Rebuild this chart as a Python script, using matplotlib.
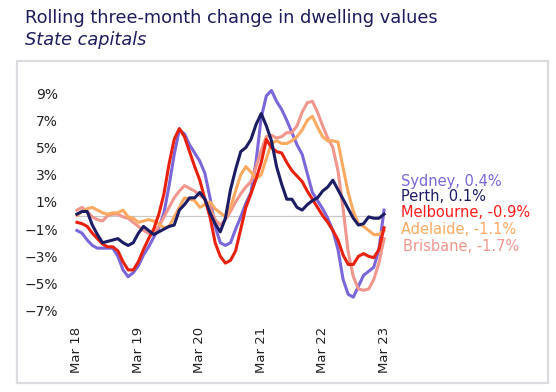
import numpy as np
import matplotlib.pyplot as plt
from matplotlib.patches import Rectangle

# rolling three-month change (%), monthly from Mar 2018 to Mar 2023
sydney = [-1.1, -1.3, -1.8, -2.2, -2.4, -2.4, -2.4, -2.4, -3.0, -4.0, -4.5, -4.2,
          -3.7, -2.9, -2.3, -1.6, -0.9, 0.2, 2.2, 4.5, 6.3, 6.0, 5.2, 4.6,
          4.0, 3.1, 1.3, -0.8, -2.0, -2.2, -2.0, -1.0, -0.1, 0.9, 1.7, 4.0,
          7.2, 8.8, 9.2, 8.4, 7.8, 7.0, 6.1, 5.2, 4.5, 3.1, 1.7, 1.1,
          0.5, -0.2, -1.1, -2.5, -4.7, -5.8, -6.0, -5.2, -4.4, -4.1, -3.8, -2.5, 0.4]
perth = [0.1, 0.3, 0.3, -0.7, -1.4, -2.0, -1.9, -1.8, -1.7, -2.0, -2.2, -2.0,
         -1.3, -0.8, -1.1, -1.4, -1.2, -1.0, -0.8, -0.7, 0.4, 0.8, 1.3, 1.3,
         1.7, 1.2, 0.2, -0.6, -1.2, -0.2, 1.9, 3.4, 4.7, 5.0, 5.6, 6.7,
         7.5, 6.6, 5.5, 3.6, 2.3, 1.2, 1.2, 0.6, 0.4, 0.8, 1.1, 1.3,
         1.8, 2.1, 2.6, 1.9, 1.2, 0.5, -0.2, -0.7, -0.6, -0.1, -0.2, -0.2, 0.1]
melbourne = [-0.5, -0.6, -0.8, -1.3, -1.7, -2.1, -2.3, -2.3, -2.6, -3.4, -4.0, -4.0,
             -3.4, -2.5, -1.7, -1.0, 0.1, 1.6, 3.8, 5.6, 6.4, 5.8, 4.7, 3.6,
             2.6, 1.2, -0.1, -2.0, -3.0, -3.5, -3.3, -2.6, -1.0, 0.6, 1.6, 2.7,
             3.9, 5.6, 5.0, 4.7, 4.6, 3.9, 3.3, 2.9, 2.5, 1.8, 1.2, 0.6,
             0.0, -0.5, -1.1, -1.8, -2.9, -3.6, -3.6, -3.0, -2.8, -3.0, -3.1, -2.5, -0.9]
adelaide = [0.0, 0.3, 0.5, 0.6, 0.4, 0.2, 0.1, 0.2, 0.2, 0.4, -0.1, -0.2,
            -0.5, -0.4, -0.3, -0.4, -0.6, -0.9, -0.8, -0.1, 0.6, 1.3, 1.2, 1.1,
            0.6, 0.8, 1.0, 0.5, 0.2, -0.1, 0.6, 1.8, 3.0, 3.6, 3.2, 2.7,
            3.0, 4.2, 5.3, 5.5, 5.3, 5.3, 5.5, 5.8, 6.3, 7.0, 7.3, 6.5,
            5.8, 5.5, 5.5, 5.4, 3.5, 1.7, 0.3, -0.6, -0.8, -1.1, -1.4, -1.4, -1.1]
brisbane = [0.4, 0.6, 0.3, -0.1, -0.3, -0.4, 0.0, 0.1, 0.1, -0.1, -0.2, -0.5,
            -0.8, -1.1, -1.3, -1.3, -0.8, -0.1, 0.6, 1.3, 1.8, 2.2, 2.0, 1.8,
            1.5, 1.2, 0.6, -0.3, -0.7, -0.3, 0.3, 1.0, 1.6, 2.1, 2.5, 3.6,
            4.8, 5.8, 5.9, 5.7, 5.8, 6.1, 6.1, 6.6, 7.6, 8.3, 8.4, 7.6,
            6.6, 5.7, 5.0, 3.3, 0.5, -2.7, -4.5, -5.4, -5.5, -5.4, -4.7, -3.5, -1.7]

tick_pos = [0, 12, 24, 36, 48, 60]
tick_labels = ['Mar 18', 'Mar 19', 'Mar 20', 'Mar 21', 'Mar 22', 'Mar 23']
y_ticks = [9, 7, 5, 3, 1, -1, -3, -5, -7]

series = [('Sydney, 0.4%', sydney, '#7b66da', '#7b66da'),
          ('Brisbane, -1.7%', brisbane, '#f0968c', '#f0968c'),
          ('Adelaide, -1.1%', adelaide, '#fcaa62', '#fcaa62'),
          ('Melbourne, -0.9%', melbourne, '#e8210e', '#ff1a1a'),
          ('Perth, 0.1%', perth, '#1c1c64', '#1c1c64')]
label_y = {'Sydney, 0.4%': 2.5, 'Perth, 0.1%': 1.43, 'Melbourne, -0.9%': 0.2,
           'Adelaide, -1.1%': -1.0, 'Brisbane, -1.7%': -2.3}

navy = '#1c1c5c'
fig = plt.figure(figsize=(5.56, 3.92), dpi=100)
fig.patches.append(Rectangle((17 / 556, 1 - 383 / 392), 531 / 556, 322 / 392,
                             transform=fig.transFigure, fill=False,
                             edgecolor='#dcdce0', linewidth=1.6))
fig.text(25 / 556, 1 - 18 / 392, 'Rolling three-month change in dwelling values',
         color=navy, fontsize=12.8, va='center', ha='left')
fig.text(25 / 556, 1 - 40 / 392, 'State capitals', color=navy, fontsize=12.8,
         style='italic', va='center', ha='left')

ax = fig.add_axes([74.4 / 556, 0.1727, (386.6 - 74.4) / 556, 0.797 - 0.1727])
x = np.arange(len(sydney))
ax.hlines(0, 0, 60, color='#c8c8c8', linewidth=0.9, zorder=1)
for name, vals, c, tc in series:
    ax.plot(x, vals, color=c, linewidth=2.2, solid_joinstyle='round', zorder=2)
    ax.text(63.3 if name != 'Brisbane, -1.7%' else 63.7, label_y[name], name,
            color=tc, fontsize=10.5, va='center', ha='left', clip_on=False)

ax.set_xlim(-0.5, 60.5)
ax.set_ylim(-8, 10)
ax.set_xticks(tick_pos)
ax.set_xticklabels(tick_labels, rotation=90, fontsize=9.5, color='#222222')
ax.set_yticks(y_ticks)
ax.set_yticklabels([f'{v}%'.replace('-', '\u2212') for v in y_ticks],
                   fontsize=10, color='#222222')
ax.tick_params(length=0, pad=2)
ax.tick_params(axis='y', pad=12)
for s in ax.spines.values():
    s.set_visible(False)

fig.savefig('out.png', dpi=100)
